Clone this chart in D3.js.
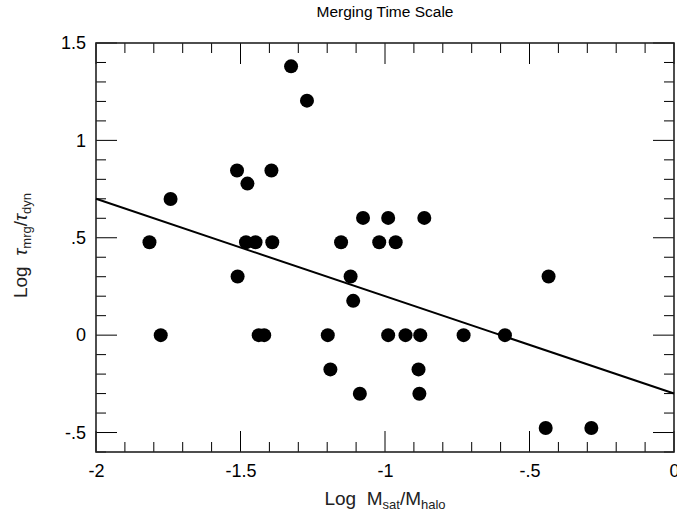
<!DOCTYPE html>
<html><head><meta charset="utf-8">
<script src="https://cdn.jsdelivr.net/npm/d3@7"></script>
<style>body{margin:0;background:#fff}text{font-family:"Liberation Sans",Arial,sans-serif}</style>
</head><body><svg id="c" width="677" height="523"></svg>
<script>
const title = "Merging Time Scale";
const xValues = [-1.815,-1.776,-1.742,-1.512,-1.510,-1.476,-1.481,-1.448,-1.437,-1.418,-1.393,-1.390,-1.325,-1.270,-1.198,-1.189,-1.152,-1.119,-1.110,-1.087,-1.076,-1.020,-0.989,-0.989,-0.963,-0.929,-0.884,-0.881,-0.878,-0.864,-0.728,-0.585,-0.444,-0.434,-0.286];
const yValues = [0.477,0,0.699,0.845,0.301,0.778,0.477,0.477,0,0,0.845,0.477,1.380,1.204,0,-0.176,0.477,0.301,0.176,-0.301,0.602,0.477,0.602,0,0.477,0,-0.176,-0.301,0,0.602,0,0,-0.477,0.301,-0.477];
const fitX = [-2, 0];
const fitY = [0.7, -0.3];
const xTicks = [-2,-1.5,-1,-0.5,0];
const xTickLabels = ["-2","-1.5","-1","-.5","0"];
const yTicks = [-0.5,0,0.5,1,1.5];
const yTickLabels = ["-.5","0",".5","1","1.5"];

const svg = d3.select("#c");
const L=96, R=674, T=43, B=452;
const x = d3.scaleLinear().domain([-2,0]).range([L,R]);
const y = d3.scaleLinear().domain([-0.6,1.5]).range([B,T]);

svg.append("text").attr("x",(L+R)/2).attr("y",17).attr("text-anchor","middle")
  .attr("font-size",15.5).text(title);

const xMinor = d3.range(-20,1).map(i=>i/10);
const yMinor = d3.range(-6,16).map(i=>i/10);
const isMajor = v => Math.abs(v*2 - Math.round(v*2))<1e-6;
const tickLen = v => isMajor(v) ? 21 : 10;

const tg = svg.append("g").attr("stroke","#000").attr("stroke-width",1);
tg.selectAll("line.xb").data(xMinor).join("line").attr("class","xb")
  .attr("x1",d=>x(d)).attr("x2",d=>x(d)).attr("y1",B).attr("y2",d=>B-tickLen(d));
tg.selectAll("line.xt").data(xMinor).join("line").attr("class","xt")
  .attr("x1",d=>x(d)).attr("x2",d=>x(d)).attr("y1",T).attr("y2",d=>T+tickLen(d));
tg.selectAll("line.yl").data(yMinor).join("line").attr("class","yl")
  .attr("y1",d=>y(d)).attr("y2",d=>y(d)).attr("x1",L).attr("x2",d=>L+tickLen(d));
tg.selectAll("line.yr").data(yMinor).join("line").attr("class","yr")
  .attr("y1",d=>y(d)).attr("y2",d=>y(d)).attr("x1",R).attr("x2",d=>R-tickLen(d));

svg.append("g").attr("transform",`translate(0,${B})`).call(d3.axisBottom(x).tickValues(xTicks)
  .tickSize(0).tickPadding(12).tickFormat((d,i)=>xTickLabels[i]))
  .call(g=>{g.select(".domain").remove(); g.selectAll("text").attr("font-size",18).attr("font-family","Liberation Sans, Arial, sans-serif").attr("fill","#000");});
svg.append("g").attr("transform",`translate(${L},0)`).call(d3.axisLeft(y).tickValues(yTicks)
  .tickSize(0).tickPadding(10).tickFormat((d,i)=>yTickLabels[i]))
  .call(g=>{g.select(".domain").remove(); g.selectAll("text").attr("font-size",18).attr("font-family","Liberation Sans, Arial, sans-serif").attr("fill","#000");});

svg.append("rect").attr("x",L).attr("y",T).attr("width",R-L).attr("height",B-T)
  .attr("fill","none").attr("stroke","#222").attr("stroke-width",1.6);

svg.append("line").attr("x1",x(fitX[0])).attr("y1",y(fitY[0])).attr("x2",x(fitX[1])).attr("y2",y(fitY[1]))
  .attr("stroke","#000").attr("stroke-width",2);

svg.append("g").selectAll("circle").data(xValues.map((v,i)=>[v,yValues[i]])).join("circle")
  .attr("cx",d=>x(d[0])).attr("cy",d=>y(d[1])).attr("r",7).attr("fill","#000");

const xt = svg.append("text").attr("x",(L+R)/2).attr("y",505).attr("text-anchor","middle")
  .attr("font-size",19).attr("fill","#222").attr("font-family","DejaVu Sans, sans-serif").attr("font-weight",300)
  .attr("xml:space","preserve");
xt.append("tspan").text("Log  M");
xt.append("tspan").attr("font-size",13).attr("dy",4).text("sat");
xt.append("tspan").attr("dy",-4).text("/M");
xt.append("tspan").attr("font-size",13).attr("dy",4).text("halo");

const yt = svg.append("text").attr("transform",`translate(27,${(T+B)/2-2}) rotate(-90)`).attr("text-anchor","middle")
  .attr("font-size",19).attr("fill","#222").attr("font-family","DejaVu Sans, sans-serif")
  .attr("xml:space","preserve");
yt.append("tspan").text("Log  ");
yt.append("tspan").attr("font-style","italic").text("τ");
yt.append("tspan").attr("font-size",13).attr("dy",4).text("mrg");
yt.append("tspan").attr("dy",-4).text("/");
yt.append("tspan").attr("font-style","italic").text("τ");
yt.append("tspan").attr("font-size",13).attr("dy",4).text("dyn");
</script></body></html>
